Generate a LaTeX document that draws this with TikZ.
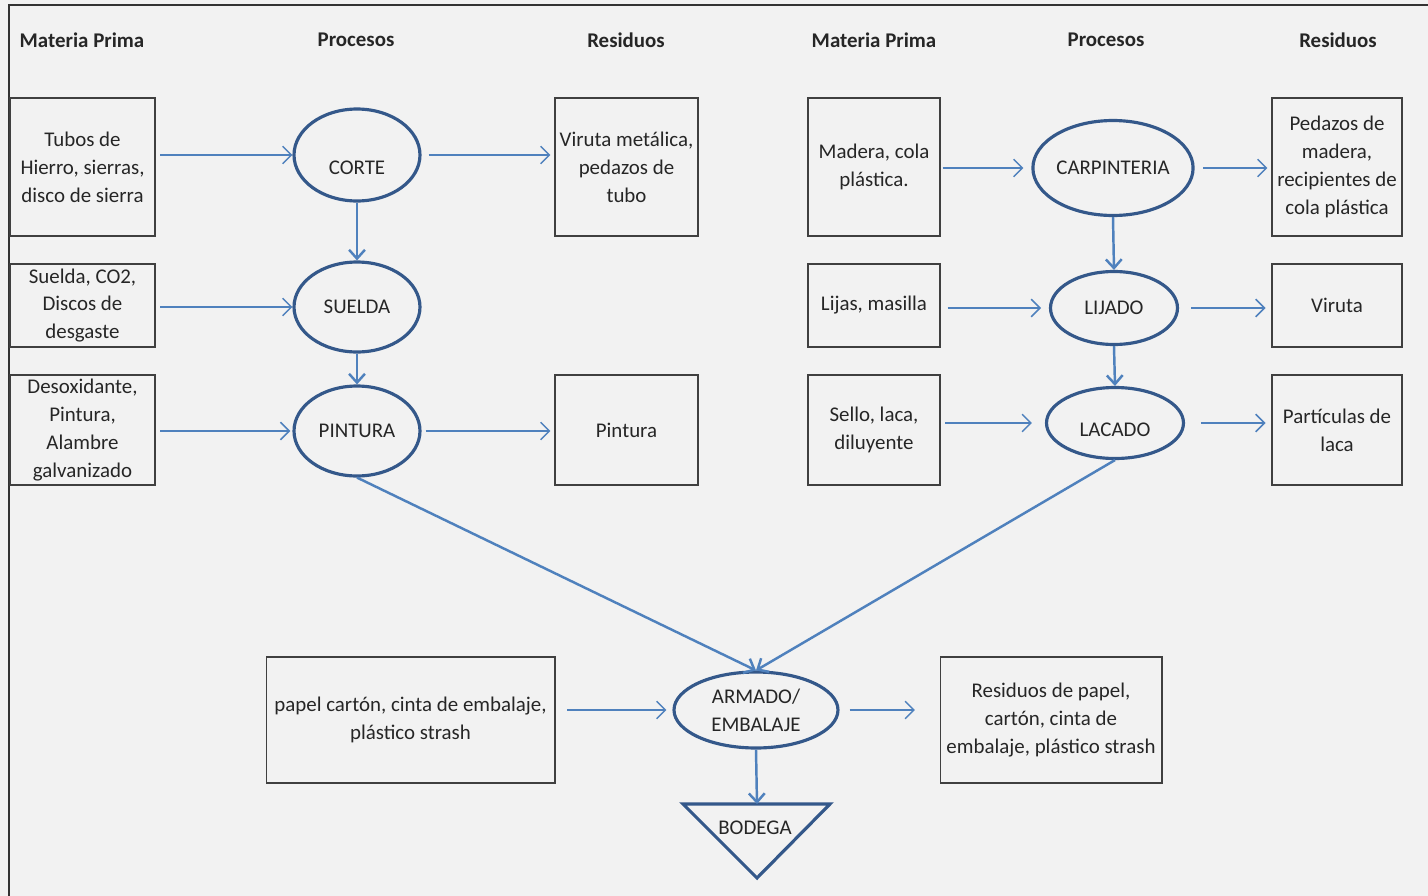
\documentclass[tikz,border=0pt]{standalone}
\usepackage{fontspec}
\setmainfont{Carlito}
\usetikzlibrary{shapes,arrows.meta}

\definecolor{fondo}{HTML}{F2F2F2}
\definecolor{borde}{HTML}{34588A}
\definecolor{flecha}{HTML}{4F81BD}
\definecolor{texto}{HTML}{262626}

\tikzset{
  caja/.style={draw=black!75, line width=0.6pt, align=center, inner sep=1pt,
    text=texto, font=\fontsize{11.9}{15.9}\selectfont},
  proceso/.style={ellipse, draw=borde, line width=1.8pt, inner sep=0pt, align=center,
    text=texto, font=\fontsize{11.9}{15.9}\selectfont},
  titulo/.style={text=texto, font=\bfseries\fontsize{11.9}{14}\selectfont},
  flujo/.style={draw=flecha, line width=0.85pt, -{Straight Barb[length=5pt,width=10pt]}},
  paso/.style={draw=flecha, line width=1.4pt, -{Straight Barb[length=5pt,width=9pt]}},
}

\begin{document}
\begin{tikzpicture}[x=0.02cm, y=-0.02cm]
\useasboundingbox (0,0) rectangle (1428,896);
\fill[fondo] (0,0) rectangle (1428,896);
\draw[black!80, line width=1.2pt] (9,896) -- (9,5) -- (1428,5);

% titulos
\node[titulo] (t1) at (82,40) {Materia Prima};
\node[titulo] (t2) at (356,40) {Procesos};
\node[titulo] (t3) at (626,40) {Residuos};
\node[titulo] (t4) at (874,40) {Materia Prima};
\node[titulo] (t5) at (1106,40) {Procesos};
\node[titulo] (t6) at (1338,40) {Residuos};

% linea metalica
\node[caja, minimum width=2.9cm, minimum height=2.76cm] (mp1) at (82.5,167) {Tubos de\\Hierro, sierras,\\disco de sierra};
\node[caja, minimum width=2.9cm, minimum height=1.66cm] (mp2) at (82.5,305.5) {Suelda, CO2,\\Discos de\\desgaste};
\node[caja, minimum width=2.9cm, minimum height=2.2cm] (mp3) at (82.5,430) {Desoxidante,\\Pintura,\\Alambre\\galvanizado};
\node[proceso, minimum width=2.52cm, minimum height=1.84cm, text height=22pt] (corte) at (357,155) {CORTE};
\node[proceso, minimum width=2.52cm, minimum height=1.8cm] (suelda) at (357,307) {SUELDA};
\node[proceso, minimum width=2.52cm, minimum height=1.8cm] (pintura) at (357,431) {PINTURA};
\node[caja, minimum width=2.86cm, minimum height=2.76cm] (rs1) at (626.5,167) {Viruta met\'alica,\\pedazos de\\tubo};
\node[caja, minimum width=2.86cm, minimum height=2.2cm] (rs3) at (626.5,430) {Pintura};

% linea de madera
\node[caja, minimum width=2.64cm, minimum height=2.76cm] (mpc) at (874,167) {Madera, cola\\pl\'astica.};
\node[caja, minimum width=2.64cm, minimum height=1.66cm] (mpl) at (874,305.5) {Lijas, masilla};
\node[caja, minimum width=2.64cm, minimum height=2.2cm] (mpk) at (874,430) {Sello, laca,\\diluyente};
\node[proceso, minimum width=3.12cm, minimum height=1.9cm] (carp) at (1113,168) {CARPINTERIA};
\node[proceso, minimum width=2.54cm, minimum height=1.46cm] (lijado) at (1114,308) {LIJADO};
\node[proceso, minimum width=2.74cm, minimum height=1.42cm, text height=16pt] (lacado) at (1115,423) {LACADO};
\node[caja, minimum width=2.6cm, minimum height=2.76cm] (rsc) at (1337,167) {Pedazos de\\madera,\\recipientes de\\cola pl\'astica};
\node[caja, minimum width=2.6cm, minimum height=1.66cm] (rsl) at (1337,305.5) {Viruta};
\node[caja, minimum width=2.6cm, minimum height=2.2cm] (rsk) at (1337,430) {Part\'iculas de\\laca};

% armado final
\node[caja, minimum width=5.78cm, minimum height=2.52cm] (emb) at (410.5,720) {papel cart\'on, cinta de embalaje,\\pl\'astico strash};
\node[proceso, minimum width=3.28cm, minimum height=1.52cm] (armado) at (756,710) {ARMADO/\\EMBALAJE};
\node[caja, minimum width=4.44cm, minimum height=2.52cm] (rse) at (1051,720) {Residuos de papel,\\cart\'on, cinta de\\embalaje, pl\'astico strash};
\coordinate (btop) at (757,804);
\draw[borde, line width=1.8pt, line join=miter] (683,804) -- (830,804) -- (757,878) -- cycle;
\node[text=texto, font=\fontsize{11.9}{14}\selectfont] (bodega) at (755,828) {BODEGA};

% entradas y salidas
\draw[flujo, shorten <=2.8pt] (mp1.east |- corte.west) -- (corte.west);
\draw[flujo, shorten <=4pt, shorten >=2.3pt] (corte.east) -- (corte.east -| rs1.west);
\draw[flujo, shorten <=2.8pt] (mp2.east |- suelda.west) -- (suelda.west);
\draw[flujo, shorten <=2.8pt, shorten >=1.2pt] (mp3.east |- pintura.west) -- (pintura.west);
\draw[flujo, shorten <=2.3pt, shorten >=2.3pt] (pintura.east) -- (pintura.east -| rs3.west);
\draw[flujo, shorten <=1.2pt, shorten >=4.5pt] (mpc.east |- carp.west) -- (carp.west);
\draw[flujo, shorten <=5pt, shorten >=2.3pt] (carp.east) -- (carp.east -| rsc.west);
\draw[flujo, shorten <=4pt, shorten >=4.5pt] (mpl.east |- lijado.west) -- (lijado.west);
\draw[flujo, shorten <=6.8pt, shorten >=3.4pt] (lijado.east) -- (lijado.east -| rsl.west);
\draw[flujo, shorten <=2.8pt, shorten >=7.4pt] (mpk.east |- lacado.west) -- (lacado.west);
\draw[flujo, shorten <=9pt, shorten >=3.4pt] (lacado.east) -- (lacado.east -| rsk.west);
\draw[flujo, shorten <=6.8pt, shorten >=3.4pt] (emb.east |- armado.west) -- (armado.west);
\draw[flujo, shorten <=5.7pt, shorten >=14pt] (armado.east) -- (armado.east -| rse.west);

% secuencia de procesos
\draw[paso] (corte.south) -- (suelda.north);
\draw[paso] (suelda.south) -- (pintura.north);
\draw[paso] (carp.south) -- (lijado.north);
\draw[paso] (lijado.south) -- (lacado.north);
\draw[paso] (pintura.south) -- (armado.north);
\draw[paso] (lacado.south) -- (armado.north);
\draw[paso] (armado.south) -- (btop);
\end{tikzpicture}
\end{document}
